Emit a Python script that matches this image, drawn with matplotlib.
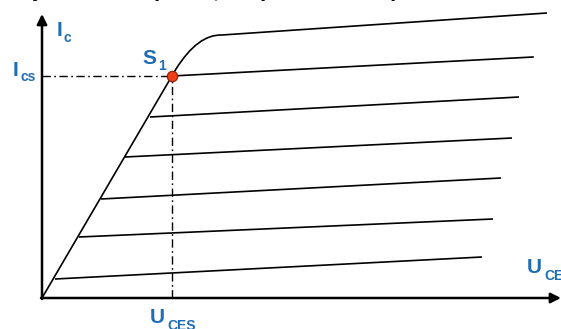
import matplotlib
matplotlib.use("Agg")
import matplotlib.pyplot as plt
from matplotlib.path import Path
from matplotlib.patches import PathPatch

# output-characteristic schematic (arbitrary units, origin at axis corner)
start_u = [13, 37, 59, 83, 108]
start_i = [19, 61, 99, 141, 181]
end_u = [440, 451, 459, 470, 477]
end_i = [41, 79, 120, 160, 201]

# saturation point S1
s1_u, s1_i = 130, 222
s1_end = (491, 241)

# top curve: ohmic line, knee, flat part
top_u = [0, 134, 156, 180, 505]
top_i = [0, 229, 264, 263, 285]

blue = "#1f6db4"
plt.rcParams["font.family"] = ["Liberation Sans", "DejaVu Sans"]

fig = plt.figure(figsize=(5.61, 3.29), dpi=100)
ax = fig.add_axes([0, 0, 1, 1])
ax.set_xlim(-42, 519)
ax.set_ylim(-31, 298)
ax.axis("off")

# base-current family
for u0, i0, u1, i1 in zip(start_u, start_i, end_u, end_i):
    ax.plot([u0, u1], [i0, i1], color="black", lw=1.2, solid_capstyle="butt")
ax.plot([s1_u, s1_end[0]], [s1_i, s1_end[1]], color="black", lw=1.2)

codes = [Path.MOVETO, Path.LINETO, Path.CURVE3, Path.CURVE3, Path.LINETO]
top = Path(list(zip(top_u, top_i)), codes)
ax.add_patch(PathPatch(top, fill=False, edgecolor="black", lw=1.2))

# dash-dot guides to S1
dd = (0, (6, 2.5, 1.2, 2.5))
ax.plot([0, s1_u], [s1_i, s1_i], color="black", lw=1.0, linestyle=dd)
ax.plot([s1_u, s1_u], [0, s1_i], color="black", lw=1.0, linestyle=dd)

# axes with arrows
arrow = dict(arrowstyle="-|>", lw=1.8, color="black", mutation_scale=15,
             shrinkA=0, shrinkB=0)
ax.annotate("", xy=(519, 0), xytext=(-1, 0), arrowprops=arrow)
ax.annotate("", xy=(0, 284), xytext=(0, -1), arrowprops=arrow)

ax.plot([s1_u], [s1_i], marker="o", markersize=7.5, color="#ec3d17",
        markeredgecolor="#8a1d05", markeredgewidth=0.8, zorder=5)

# labels
big = dict(color=blue, fontsize=15, fontweight="bold", va="baseline", ha="left")
small = dict(color=blue, fontsize=10, fontweight="bold", va="baseline", ha="left")
ax.text(15, 262, "I", **big)
ax.text(22, 256, "c", **small)
ax.text(-29, 222, "I", **big)
ax.text(-22, 217, "cs", **small)
ax.text(100, 234, "S", **big)
ax.text(116, 228, "1", **small)
ax.text(108, -25, "U", **big)
ax.text(125, -32, "CES", **small)
ax.text(485, 25, "U", **big)
ax.text(502, 18, "CE", **small)

# cut-off line of text above the figure
top_txt = dict(fontsize=16, fontweight="bold", style="italic", color="black",
               va="baseline", ha="left")
for px, ch in [(34, "y"), (155, "p"), (214, ","), (261, "p"), (391, "p")]:
    fig.text(px / 561, 1 + 4 / 329, ch, **top_txt)

fig.savefig("out.png", dpi=100)
